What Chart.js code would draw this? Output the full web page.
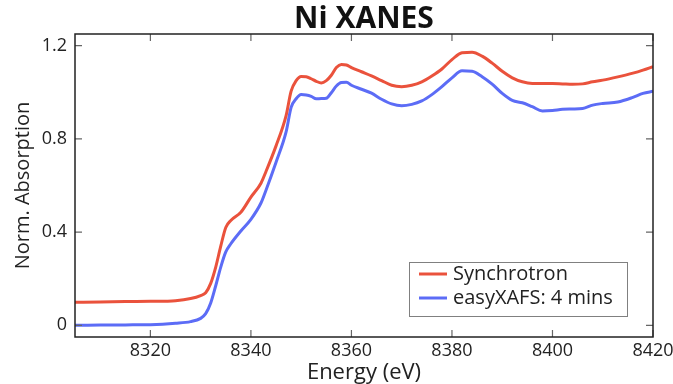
<!DOCTYPE html>
<html>
<head>
<meta charset="utf-8">
<title>Ni XANES</title>
<script src="https://cdn.jsdelivr.net/npm/chart.js@4.4.1/dist/chart.umd.min.js"></script>
<style>
  html, body { margin: 0; padding: 0; background: #fff; }
  #wrap { width: 673px; height: 384px; }
</style>
</head>
<body>
<div id="wrap"><canvas id="chart" width="673" height="384"></canvas></div>
<script>
// Valores (energia em eV, absorção normalizada).
const energia = [
  8305, 8310, 8315, 8320, 8325, 8328, 8330, 8331, 8332, 8333, 8334, 8335, 8336, 8338,
  8340, 8342, 8343, 8345, 8347, 8348, 8349, 8350, 8351, 8352, 8353, 8354, 8355, 8356,
  8357, 8358, 8359, 8360, 8362, 8364, 8366, 8368, 8370, 8372, 8374, 8376, 8378, 8380,
  8382, 8384, 8386, 8388, 8390, 8392, 8394, 8396, 8398, 8400, 8402, 8404, 8406, 8408,
  8410, 8413, 8416, 8418, 8420
];
const sincrotron = [
  0.099, 0.100, 0.102, 0.103, 0.106, 0.115, 0.128, 0.140, 0.180, 0.250, 0.340, 0.420, 0.450, 0.485,
  0.550, 0.610, 0.660, 0.770, 0.900, 1.005, 1.050, 1.068, 1.067, 1.058, 1.047, 1.040, 1.050, 1.073,
  1.106, 1.119, 1.117, 1.106, 1.088, 1.070, 1.050, 1.030, 1.024, 1.030, 1.045, 1.070, 1.100, 1.140,
  1.170, 1.172, 1.155, 1.125, 1.090, 1.062, 1.045, 1.038, 1.038, 1.038, 1.036, 1.034, 1.036, 1.045,
  1.052, 1.066, 1.082, 1.095, 1.110
];
const easyXafs = [
  0.000, 0.001, 0.002, 0.003, 0.009, 0.016, 0.030, 0.050, 0.096, 0.170, 0.250, 0.315, 0.350, 0.405,
  0.455, 0.525, 0.580, 0.700, 0.830, 0.935, 0.972, 0.990, 0.988, 0.982, 0.972, 0.973, 0.974, 0.998,
  1.027, 1.042, 1.043, 1.030, 1.013, 0.996, 0.970, 0.950, 0.942, 0.948, 0.963, 0.990, 1.024, 1.062,
  1.092, 1.090, 1.067, 1.035, 0.995, 0.965, 0.955, 0.938, 0.920, 0.922, 0.927, 0.928, 0.930, 0.945,
  0.952, 0.958, 0.978, 0.995, 1.004
];
const legendas = ["Synchrotron", "easyXAFS: 4 mins"];
const xTicks = [8320, 8340, 8360, 8380, 8400, 8420];
const yTicks = [0, 0.4, 0.8, 1.2];

const FONTE = "'Open Sans', 'Noto Sans', sans-serif";
const VERMELHO = "rgb(234, 82, 60)";
const AZUL = "rgb(92, 108, 246)";

function pontos(ys) {
  return energia.map((x, i) => ({ x, y: ys[i] }));
}

// Moldura, ticks para dentro nos quatro lados e legenda com borda pontilhada.
const molduraPlugin = {
  id: "moldura",
  afterDraw(chart) {
    const { ctx, chartArea: a, scales } = chart;
    const tl = 7;
    ctx.save();
    ctx.strokeStyle = "#666";
    ctx.lineWidth = 1.2;
    ctx.beginPath();
    xTicks.forEach((v) => {
      const px = scales.x.getPixelForValue(v);
      ctx.moveTo(px, a.bottom); ctx.lineTo(px, a.bottom - tl);
      ctx.moveTo(px, a.top); ctx.lineTo(px, a.top + tl);
    });
    yTicks.forEach((v) => {
      const py = scales.y.getPixelForValue(v);
      ctx.moveTo(a.left, py); ctx.lineTo(a.left + tl, py);
      ctx.moveTo(a.right, py); ctx.lineTo(a.right - tl, py);
    });
    ctx.stroke();

    ctx.strokeStyle = "#222";
    ctx.lineWidth = 1.5;
    ctx.strokeRect(a.left, a.top, a.right - a.left, a.bottom - a.top);

    // legenda
    const bx = 409, by = 262, bw = 218, bh = 54;
    ctx.fillStyle = "#fff";
    ctx.fillRect(bx, by, bw, bh);
    ctx.setLineDash([1, 1]);
    ctx.strokeStyle = "#000";
    ctx.lineWidth = 1;
    ctx.strokeRect(bx + 0.5, by + 0.5, bw, bh);
    ctx.setLineDash([]);
    const cores = [VERMELHO, AZUL];
    ctx.font = "20px " + FONTE;
    ctx.textBaseline = "middle";
    legendas.forEach((txt, i) => {
      const ly = by + 12 + i * 24;
      ctx.strokeStyle = cores[i];
      ctx.lineWidth = 3;
      ctx.beginPath();
      ctx.moveTo(bx + 10, ly); ctx.lineTo(bx + 38, ly);
      ctx.stroke();
      ctx.fillStyle = "#222";
      ctx.fillText(txt, bx + 44, ly);
    });
    ctx.restore();
  },
};

new Chart(document.getElementById("chart"), {
  type: "line",
  data: {
    datasets: [
      { label: legendas[0], data: pontos(sincrotron), borderColor: VERMELHO, borderWidth: 3, pointRadius: 0, tension: 0.3, cubicInterpolationMode: "monotone" },
      { label: legendas[1], data: pontos(easyXafs), borderColor: AZUL, borderWidth: 3, pointRadius: 0, tension: 0.3, cubicInterpolationMode: "monotone" },
    ],
  },
  options: {
    responsive: false,
    animation: false,
    layout: { padding: { right: 20, left: 0, top: 0, bottom: 0 } },
    plugins: {
      legend: { display: false },
      tooltip: { enabled: false },
      title: {
        display: true,
        fullSize: false,
        text: "Ni XANES",
        color: "#111",
        font: { family: FONTE, size: 30, weight: "bold", lineHeight: 0.95 },
        padding: { top: 5.5, bottom: 0 },
      },
    },
    scales: {
      x: {
        type: "linear",
        min: 8305,
        max: 8420,
        grid: { display: false, drawTicks: false },
        border: { display: false },
        afterBuildTicks: (s) => { s.ticks = xTicks.map((v) => ({ value: v })); },
        afterFit: (s) => { s.height = 47; s.paddingLeft = 0; s.paddingRight = 0; },
        ticks: { color: "#222", padding: 3, font: { family: FONTE, size: 18 }, callback: (v) => String(v) },
        title: { display: true, text: "Energy (eV)", color: "#222", font: { family: FONTE, size: 22, lineHeight: 1.0 }, padding: { top: 0, bottom: 0 } },
      },
      y: {
        min: -0.05,
        max: 1.25,
        grid: { display: false, drawTicks: false },
        border: { display: false },
        afterBuildTicks: (s) => { s.ticks = yTicks.map((v) => ({ value: v })); },
        afterFit: (s) => { s.width = 75; s.paddingTop = 0; s.paddingBottom = 0; },
        ticks: { color: "#222", padding: 8, font: { family: FONTE, size: 18 }, callback: (v) => (v === 0 ? "0" : v.toFixed(1)) },
        title: { display: true, text: "Norm. Absorption", color: "#222", font: { family: FONTE, size: 20 }, padding: { top: 11 } },
      },
    },
  },
  plugins: [molduraPlugin],
});
</script>
</body>
</html>
